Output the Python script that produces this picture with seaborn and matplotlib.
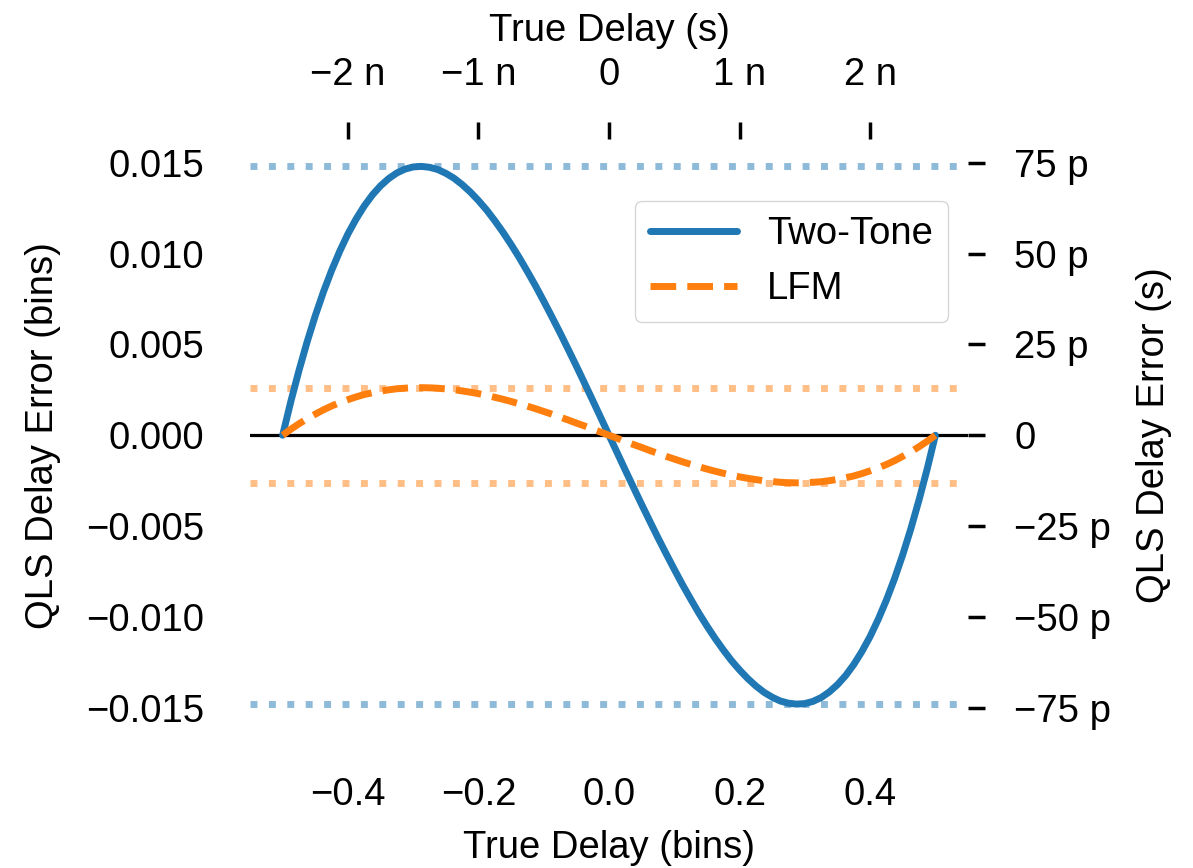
import matplotlib
matplotlib.use("Agg")
import matplotlib.pyplot as plt
from matplotlib.ticker import EngFormatter
import pandas as pd
import seaborn as sns

# True delay within one bin (sampled every 0.0125 bins)
true_delay_bins = [
    -0.5000, -0.4875, -0.4750, -0.4625, -0.4500, -0.4375, -0.4250, -0.4125, -0.4000, -0.3875,
    -0.3750, -0.3625, -0.3500, -0.3375, -0.3250, -0.3125, -0.3000, -0.2875, -0.2750, -0.2625,
    -0.2500, -0.2375, -0.2250, -0.2125, -0.2000, -0.1875, -0.1750, -0.1625, -0.1500, -0.1375,
    -0.1250, -0.1125, -0.1000, -0.0875, -0.0750, -0.0625, -0.0500, -0.0375, -0.0250, -0.0125,
    0.0000,
    0.0125, 0.0250, 0.0375, 0.0500, 0.0625, 0.0750, 0.0875, 0.1000, 0.1125, 0.1250,
    0.1375, 0.1500, 0.1625, 0.1750, 0.1875, 0.2000, 0.2125, 0.2250, 0.2375, 0.2500,
    0.2625, 0.2750, 0.2875, 0.3000, 0.3125, 0.3250, 0.3375, 0.3500, 0.3625, 0.3750,
    0.3875, 0.4000, 0.4125, 0.4250, 0.4375, 0.4500, 0.4625, 0.4750, 0.4875, 0.5000,
]

# QLS delay error (bins) for each waveform
two_tone_error = [
    0.00000, 0.00185, 0.00356, 0.00514, 0.00658, 0.00789, 0.00907, 0.01013, 0.01108, 0.01190,
    0.01262, 0.01323, 0.01373, 0.01413, 0.01444, 0.01465, 0.01477, 0.01480, 0.01475, 0.01463,
    0.01442, 0.01415, 0.01380, 0.01339, 0.01292, 0.01240, 0.01181, 0.01118, 0.01050, 0.00978,
    0.00901, 0.00822, 0.00738, 0.00652, 0.00564, 0.00473, 0.00381, 0.00287, 0.00192, 0.00096,
    0.00000,
    -0.00096, -0.00192, -0.00287, -0.00381, -0.00473, -0.00564, -0.00652, -0.00738, -0.00822, -0.00901,
    -0.00978, -0.01050, -0.01118, -0.01181, -0.01240, -0.01292, -0.01339, -0.01380, -0.01415, -0.01442,
    -0.01463, -0.01475, -0.01480, -0.01477, -0.01465, -0.01444, -0.01413, -0.01373, -0.01323, -0.01262,
    -0.01190, -0.01108, -0.01013, -0.00907, -0.00789, -0.00658, -0.00514, -0.00356, -0.00185, 0.00000,
]
lfm_error = [
    0.00000, 0.00033, 0.00063, 0.00091, 0.00116, 0.00140, 0.00161, 0.00180, 0.00196, 0.00211,
    0.00224, 0.00234, 0.00243, 0.00250, 0.00256, 0.00259, 0.00262, 0.00262, 0.00261, 0.00259,
    0.00255, 0.00251, 0.00244, 0.00237, 0.00229, 0.00220, 0.00209, 0.00198, 0.00186, 0.00173,
    0.00160, 0.00146, 0.00131, 0.00116, 0.00100, 0.00084, 0.00067, 0.00051, 0.00034, 0.00017,
    0.00000,
    -0.00017, -0.00034, -0.00051, -0.00067, -0.00084, -0.00100, -0.00116, -0.00131, -0.00146, -0.00160,
    -0.00173, -0.00186, -0.00198, -0.00209, -0.00220, -0.00229, -0.00237, -0.00244, -0.00251, -0.00255,
    -0.00259, -0.00261, -0.00262, -0.00262, -0.00259, -0.00256, -0.00250, -0.00243, -0.00234, -0.00224,
    -0.00211, -0.00196, -0.00180, -0.00161, -0.00140, -0.00116, -0.00091, -0.00063, -0.00033, 0.00000,
]

# Worst-case error bounds (bins)
two_tone_bound = 0.0148
lfm_bound = 0.00262

series_labels = ["Two-Tone", "LFM"]
bin_seconds = 5e-9

x_ticks = [-0.4, -0.2, 0.0, 0.2, 0.4]
y_ticks = [-0.015, -0.010, -0.005, 0.000, 0.005, 0.010, 0.015]
top_ticks = [-2e-9, -1e-9, 0.0, 1e-9, 2e-9]
right_ticks = [-75e-12, -50e-12, -25e-12, 0.0, 25e-12, 50e-12, 75e-12]

sns.set_theme(style="white")
plt.rcParams["font.family"] = ["Liberation Sans", "DejaVu Sans"]
plt.rcParams["axes.unicode_minus"] = True
plt.rcParams["text.color"] = "black"
plt.rcParams["axes.labelcolor"] = "black"
plt.rcParams["xtick.color"] = "black"
plt.rcParams["ytick.color"] = "black"
plt.rcParams["lines.solid_joinstyle"] = "round"
plt.rcParams["lines.dash_joinstyle"] = "round"

FS = 27.5
palette = sns.color_palette("tab10")
blue, orange = palette[0], palette[1]

fig = plt.figure(figsize=(11.93, 8.68), dpi=100)
ax = fig.add_axes([250 / 1193, 1 - 731 / 868, 718 / 1193, 591.5 / 868])

n = len(true_delay_bins)
df = pd.DataFrame({
    "delay": true_delay_bins * 2,
    "error": two_tone_error + lfm_error,
    "waveform": [series_labels[0]] * n + [series_labels[1]] * n,
})

for b, c in [(two_tone_bound, blue), (lfm_bound, orange)]:
    ax.axhline(b, color=c, lw=5, ls=":", alpha=0.5, zorder=1)
    ax.axhline(-b, color=c, lw=5, ls=":", alpha=0.5, zorder=1)
ax.axhline(0, color="black", lw=2.3, zorder=2)

sns.lineplot(data=df[df.waveform == series_labels[0]], x="delay", y="error",
             color=blue, lw=5, label=series_labels[0], ax=ax, zorder=3)
sns.lineplot(data=df[df.waveform == series_labels[1]], x="delay", y="error",
             color=orange, lw=5, ls="--", label=series_labels[1], ax=ax, zorder=3)

ax.set_xlim(-0.55, 0.55)
ax.set_ylim(-two_tone_bound * 1.1, two_tone_bound * 1.1)
ax.set_xticks(x_ticks)
ax.set_yticks(y_ticks)
ax.set_yticklabels([f"{v:.3f}".replace("-", "\u2212") for v in y_ticks])
ax.set_xlabel("True Delay (bins)", fontsize=FS, labelpad=12)
ax.set_ylabel("QLS Delay Error (bins)", fontsize=FS, labelpad=18)

tick_kw = dict(direction="out", length=12.2, width=2.5, pad=21, labelsize=FS, color="black")
ax.tick_params(axis="both", **tick_kw)
for s in ax.spines.values():
    s.set_visible(False)

secx = ax.secondary_xaxis("top", functions=(lambda b: b * bin_seconds, lambda s: s / bin_seconds))
secx.set_xticks(top_ticks)
secx.xaxis.set_major_formatter(EngFormatter())
secx.set_xlabel("True Delay (s)", fontsize=FS, labelpad=12)
secx.tick_params(axis="x", **tick_kw)

secy = ax.secondary_yaxis("right", functions=(lambda b: b * bin_seconds, lambda s: s / bin_seconds))
secy.set_yticks(right_ticks)
secy.yaxis.set_major_formatter(EngFormatter())
secy.set_ylabel("QLS Delay Error (s)", fontsize=FS, labelpad=18)
secy.tick_params(axis="y", **tick_kw)

for sec in (secx, secy):
    for s in sec.spines.values():
        s.set_visible(False)

ax.legend(loc="upper right", bbox_to_anchor=(0.9726, 0.8965), borderaxespad=0,
          fontsize=FS, handlelength=2.27, frameon=True)

fig.savefig("out.png", dpi=100)
